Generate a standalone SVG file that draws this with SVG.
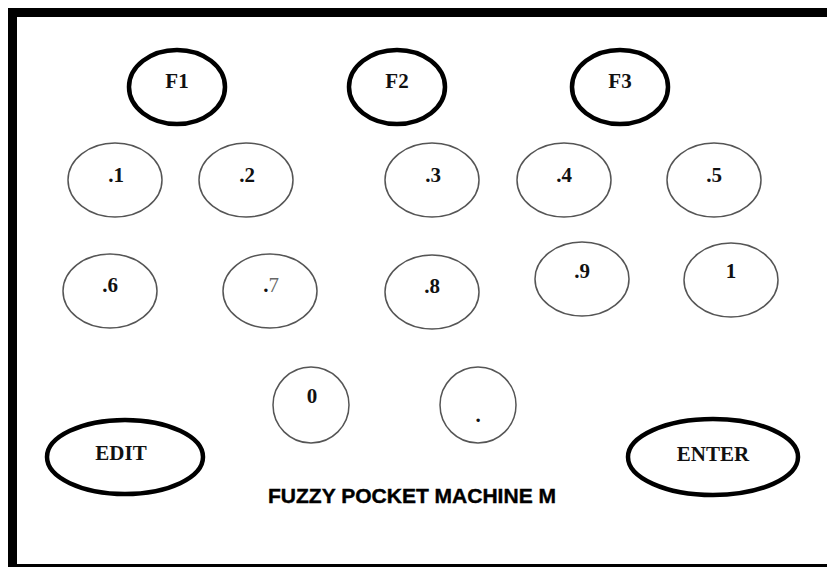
<svg xmlns="http://www.w3.org/2000/svg" width="827" height="567" viewBox="0 0 827 567">
<style>
.thick{fill:#fff;stroke:#000;stroke-width:4.5}
.thin{fill:#fff;stroke:#555;stroke-width:1.5}
.lbl{font-family:"Liberation Serif","Times New Roman",serif;font-weight:bold;font-size:21px;text-anchor:middle;fill:#111}
.title{font-family:"Liberation Sans",Arial,sans-serif;font-weight:bold;font-size:21px;fill:#000;stroke:#000;stroke-width:0.4}
</style>
<rect x="0" y="0" width="827" height="567" fill="#fff"/>
<g id="frame" stroke="#000" fill="none">
<line x1="8" y1="12.5" x2="827" y2="12.5" stroke-width="9"/>
<line x1="12.5" y1="8" x2="12.5" y2="567" stroke-width="9"/>
<line x1="8" y1="565.5" x2="827" y2="565.5" stroke-width="3"/>
</g>
<g id="connectors"></g>
<g id="F1"><ellipse class="thick" cx="177" cy="87" rx="48" ry="37"/><text class="lbl" x="177" y="88">F1</text></g>
<g id="F2"><ellipse class="thick" cx="397" cy="87" rx="48" ry="37"/><text class="lbl" x="397" y="88">F2</text></g>
<g id="F3"><ellipse class="thick" cx="620" cy="87" rx="48" ry="37"/><text class="lbl" x="620" y="88">F3</text></g>
<g id="k01"><ellipse class="thin" cx="115" cy="180" rx="47" ry="37"/><text class="lbl" x="116" y="182">.1</text></g>
<g id="k02"><ellipse class="thin" cx="246" cy="180" rx="47" ry="37"/><text class="lbl" x="247" y="182">.2</text></g>
<g id="k03"><ellipse class="thin" cx="432" cy="180" rx="47" ry="37"/><text class="lbl" x="433" y="182">.3</text></g>
<g id="k04"><ellipse class="thin" cx="564" cy="180" rx="47" ry="37"/><text class="lbl" x="564" y="182">.4</text></g>
<g id="k05"><ellipse class="thin" cx="714" cy="180" rx="47" ry="37"/><text class="lbl" x="714" y="182">.5</text></g>
<g id="k06"><ellipse class="thin" cx="110" cy="291" rx="47" ry="37"/><text class="lbl" x="110" y="292">.6</text></g>
<g id="k07"><ellipse class="thin" cx="270" cy="291" rx="47" ry="37"/><text class="lbl" x="271" y="292">.<tspan font-weight="normal" fill="#666">7</tspan></text></g>
<g id="k08"><ellipse class="thin" cx="432" cy="292" rx="47" ry="37"/><text class="lbl" x="432" y="293">.8</text></g>
<g id="k09"><ellipse class="thin" cx="582" cy="279" rx="47" ry="37"/><text class="lbl" x="582" y="278">.9</text></g>
<g id="k10"><ellipse class="thin" cx="731" cy="280" rx="47" ry="37"/><text class="lbl" x="731" y="278">1</text></g>
<g id="k0"><circle class="thin" cx="311" cy="405" r="38"/><text class="lbl" x="312" y="403">0</text></g>
<g id="kdot"><circle class="thin" cx="478" cy="405" r="38"/><text class="lbl" x="478" y="422">.</text></g>
<g id="EDIT"><ellipse class="thick" cx="125" cy="457" rx="78" ry="37"/><text class="lbl" x="121" y="460">EDIT</text></g>
<g id="ENTER"><ellipse class="thick" cx="713" cy="457" rx="85" ry="38"/><text class="lbl" x="713" y="461">ENTER</text></g>
<g id="title"><text class="title" x="268" y="503" textLength="288" lengthAdjust="spacingAndGlyphs">FUZZY POCKET MACHINE M</text></g>
</svg>
